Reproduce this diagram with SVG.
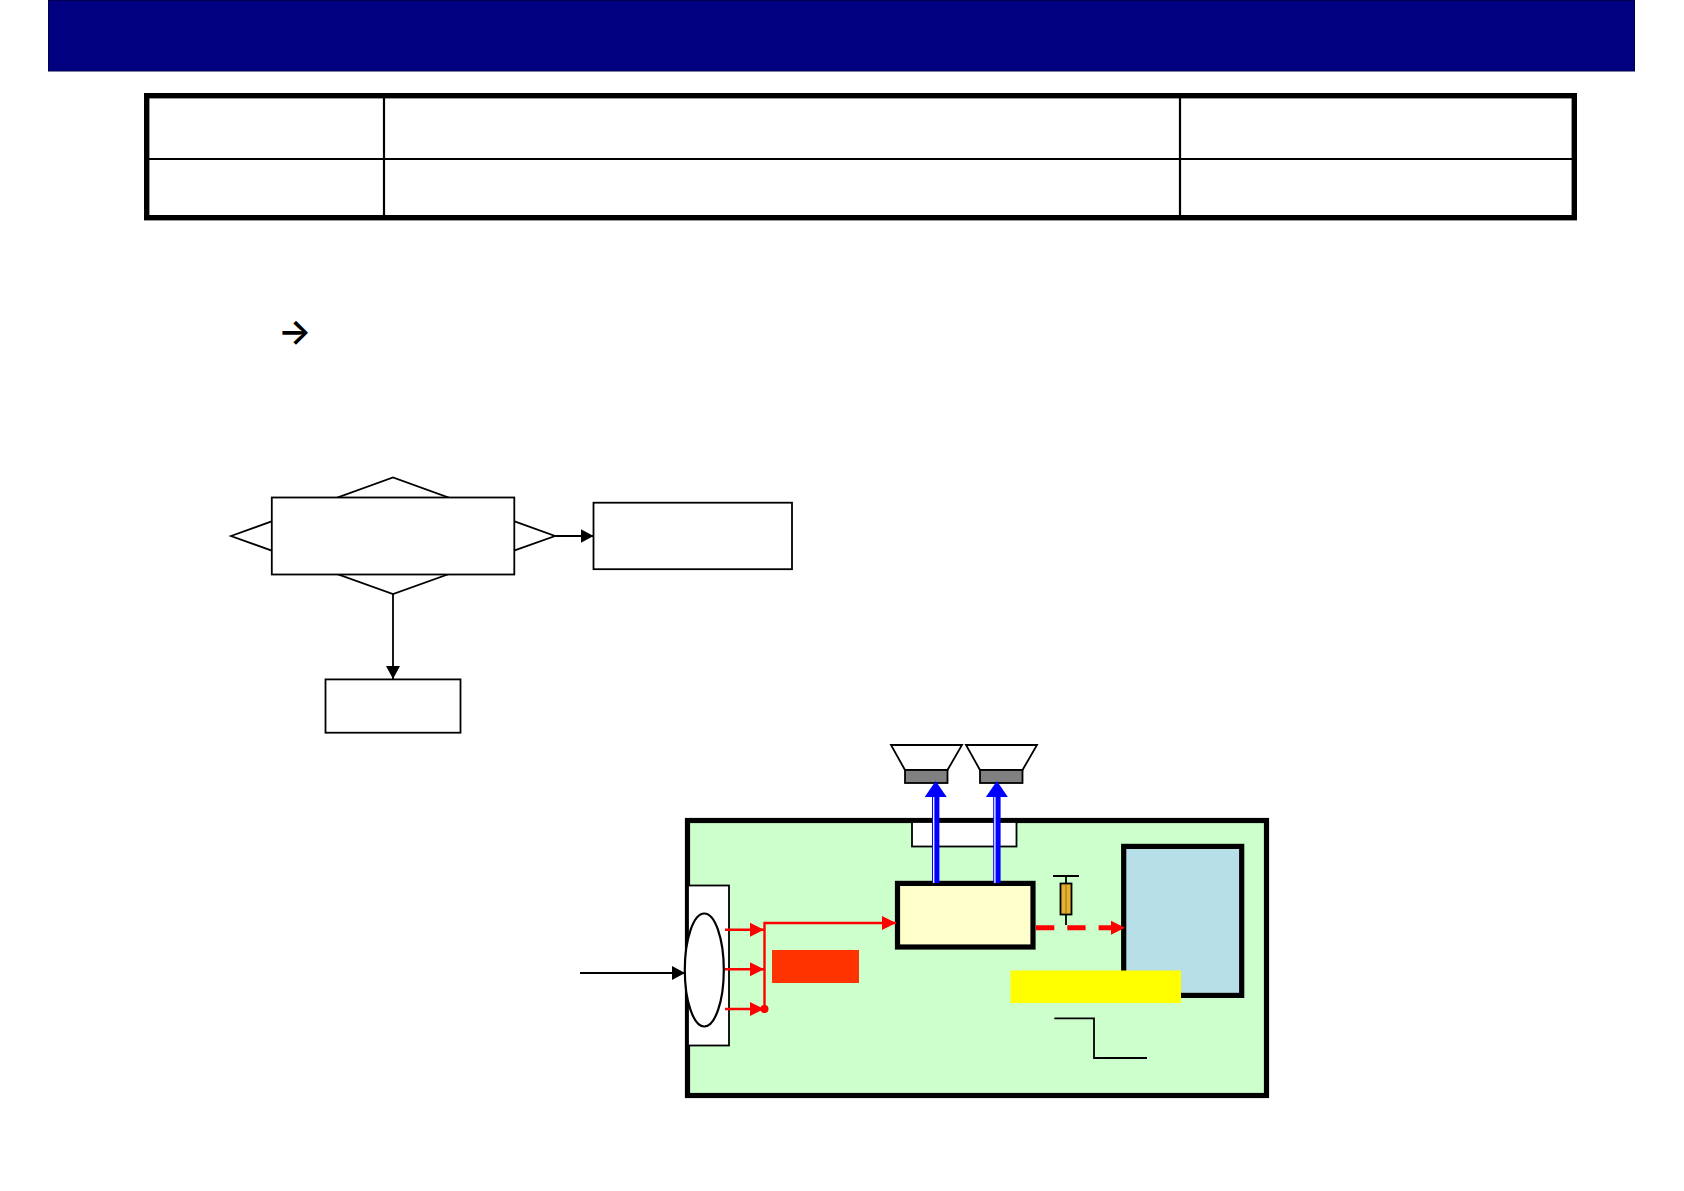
<svg xmlns="http://www.w3.org/2000/svg" width="1684" height="1191" viewBox="0 0 1684 1191">
<style>
.box{fill:#fff;stroke:#000;stroke-width:1.8}
.thick{stroke:#000;stroke-width:5.2}
.cell{fill:none;stroke:#000;stroke-width:2.2}
.blk{fill:none;stroke:#000;stroke-width:1.8}
.red{fill:none;stroke:#f00;stroke-width:2.4}
.blue{fill:none;stroke:#00f;stroke-width:7.4}
.gap{fill:none;stroke:#fff;stroke-width:1.3}
.cone{fill:#fff;stroke:#000;stroke-width:1.8}
.mag{fill:#808080;stroke:#000;stroke-width:1.8}
</style>
<defs>
<marker id="ah-black" markerUnits="userSpaceOnUse" markerWidth="14" markerHeight="15" refX="13" refY="7.5" orient="auto"><path d="M0 0.5L13 7.5L0 14.5Z" fill="#000"/></marker>
<marker id="ah-red" markerUnits="userSpaceOnUse" markerWidth="15" markerHeight="16" refX="14" refY="8" orient="auto"><path d="M0 1L14 8L0 15Z" fill="#f00"/></marker>
<marker id="ah-red-big" markerUnits="userSpaceOnUse" markerWidth="15" markerHeight="16" refX="0" refY="8" orient="auto"><path d="M0 1L14 8L0 15Z" fill="#f00"/></marker>
<marker id="ah-blue" markerUnits="userSpaceOnUse" markerWidth="17" markerHeight="24" refX="0" refY="12" orient="auto"><path d="M0 1L16 12L0 23Z" fill="#00f"/></marker>
</defs>
<g id="header"><rect x="48.5" y="0.5" width="1586" height="70.5" fill="#000080" stroke="#00004d" stroke-width="1"/></g>
<g id="table">
<rect x="146.7" y="95.7" width="1427.6" height="122" fill="#fff" stroke="#000" stroke-width="5.4"/>
<path class="cell" d="M146.5 159H1574.5M384 95.5V217.5M1180 95.5V217.5"/>
</g>
<g id="arrow-symbol"><text x="278" y="344" font-family="Inter,sans-serif" font-size="35" font-weight="600" fill="#000">→</text></g>
<g id="decision">
<path class="box" d="M231 536L393 477.5L555 536L393 594Z"/>
<rect class="box" x="271.8" y="497.5" width="242.5" height="77"/>
</g>
<g id="box-right"><rect class="box" x="593.5" y="502.7" width="198.5" height="66.5"/></g>
<g id="box-bottom"><rect class="box" x="325.5" y="679.4" width="135" height="53.3"/></g>
<g id="speaker-1"><path class="cone" d="M891 745H962L947.5 770H905Z"/><rect class="mag" x="905" y="770" width="42.5" height="13"/></g>
<g id="speaker-2"><path class="cone" d="M966 745H1037L1022.5 770H980Z"/><rect class="mag" x="980" y="770" width="42.5" height="13"/></g>
<g id="board"><rect x="687.5" y="820.5" width="579" height="275" fill="#ccffcc" stroke="#000" stroke-width="5.2"/></g>
<g id="notch"><rect class="box" x="912" y="822" width="104.5" height="24.5"/></g>
<g id="input-connector">
<rect class="box" x="688" y="885.5" width="41" height="160"/>
<ellipse cx="704.3" cy="970" rx="19.5" ry="56.5" fill="#fff" stroke="#000" stroke-width="2.2"/>
</g>
<g id="amp"><rect class="thick" x="897.5" y="883.4" width="135.5" height="63.6" fill="#ffffcc"/></g>
<g id="screen"><rect class="thick" x="1123.7" y="846.4" width="118" height="149" fill="#b7dfe7"/></g>
<g id="label-orange"><rect x="772" y="950" width="87" height="33" fill="#ff3300"/></g>
<g id="label-yellow"><rect x="1010.5" y="970.5" width="170.5" height="32.5" fill="#ffff00"/></g>
<g id="fuse">
<path class="blk" d="M1053 876H1079M1066 876V925"/>
<rect x="1060.5" y="883.5" width="11" height="31" fill="#e8b030" stroke="#000" stroke-width="1.8"/>
<path d="M1066 884V914" stroke="#7a5a10" stroke-width="0.7" fill="none"/>
</g>
<g id="connectors">
<path class="blk" d="M580 973H685" marker-end="url(#ah-black)"/>
<path class="blk" d="M555.5 536H593.5" marker-end="url(#ah-black)"/>
<path class="blk" d="M393 594V679" marker-end="url(#ah-black)"/>
<path class="red" d="M725 929.7H764" marker-end="url(#ah-red)"/>
<path class="red" d="M725 969.3H764" marker-end="url(#ah-red)"/>
<path class="red" d="M725 1009H764" marker-end="url(#ah-red)"/>
<path class="red" d="M764.5 1009V923H896" marker-end="url(#ah-red)"/>
<circle cx="764.5" cy="1009" r="4" fill="#f00"/>
<path class="blue" d="M935.7 883V797" marker-end="url(#ah-blue)"/>
<path class="gap" d="M933.7 883V797"/>
<path class="blue" d="M996.9 883V797" marker-end="url(#ah-blue)"/>
<path class="gap" d="M994.9 883V797"/>
<path d="M1036 927.7H1111" fill="none" stroke="#f00" stroke-width="5" stroke-dasharray="18.3 13" marker-end="url(#ah-red-big)"/>
<path class="blk" d="M1054.3 1018.3H1094V1058H1147"/>
</g>
</svg>
